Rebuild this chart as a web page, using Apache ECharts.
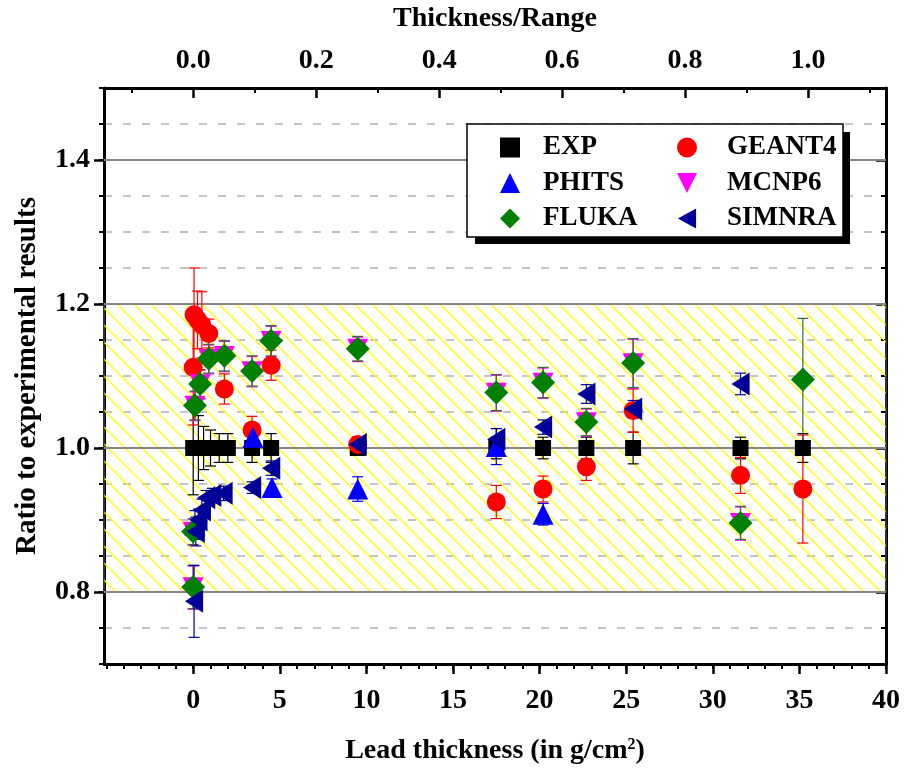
<!DOCTYPE html>
<html>
<head>
<meta charset="utf-8">
<script src="https://cdn.jsdelivr.net/npm/echarts@6/dist/echarts.min.js"></script>
<style>
  html, body { margin: 0; padding: 0; background: #ffffff; }
  #chart { width: 906px; height: 776px; }
</style>
</head>
<body>
<div id="chart"></div>
<script>
// ---- measured ratios to experiment, per code (x = lead thickness in g/cm^2) ----
const expX   = [0, 0.3, 0.6, 1.0, 1.5, 2.0, 3.4, 4.5, 9.5, 17.5, 20.2, 22.7, 25.4, 31.6, 35.2];
const expY   = [1, 1, 1, 1, 1, 1, 1, 1, 1, 1, 1, 1, 1, 1, 1];
const expErr = [0.065, 0.045, 0.03, 0.025, 0.02, 0.02, 0.02, 0.02, 0.01, 0.015, 0.015, 0.015, 0.022, 0.015, 0.02];

const geantX   = [0, 0.05, 0.25, 0.5, 0.9, 1.8, 3.4, 4.5, 9.5, 17.5, 20.2, 22.7, 25.4, 31.6, 35.2];
const geantY   = [1.112, 1.185, 1.178, 1.171, 1.159, 1.082, 1.025, 1.115, 1.005, 0.925, 0.943, 0.974, 1.052, 0.962, 0.943];
const geantErr = [0.08, 0.065, 0.04, 0.046, 0.02, 0.021, 0.019, 0.021, 0.01, 0.023, 0.018, 0.019, 0.03, 0.025, 0.075];

const flukaX   = [0, 0, 0.1, 0.4, 0.9, 1.8, 3.4, 4.5, 9.5, 17.5, 20.2, 22.7, 25.4, 31.6, 35.2];
const flukaY   = [0.807, 0.884, 1.059, 1.089, 1.124, 1.128, 1.107, 1.149, 1.138, 1.077, 1.091, 1.036, 1.118, 0.896, 1.095];
const flukaErr = [0.03, 0.018, 0.02, 0.02, 0.02, 0.021, 0.021, 0.021, 0.017, 0.025, 0.021, 0.019, 0.034, 0.023, 0.085];

const mcnpX   = [0, 0, 0.1, 0.4, 0.9, 1.8, 3.4, 4.5, 9.5, 17.5, 20.2, 22.7, 25.4, 31.6];
const mcnpY   = [0.806, 0.883, 1.058, 1.088, 1.123, 1.127, 1.106, 1.148, 1.137, 1.076, 1.090, 1.035, 1.117, 0.895];
const mcnpErr = [0.03, 0.018, 0.02, 0.02, 0.02, 0.021, 0.021, 0.021, 0.017, 0.025, 0.021, 0.019, 0.034, 0.023];

const phitsX   = [0.1, 3.45, 4.55, 9.5, 17.5, 20.2];
const phitsY   = [0.893, 1.015, 0.945, 0.943, 1.002, 0.908];
const phitsErr = [0.02, 0.012, 0.012, 0.017, 0.025, 0.015];

const simnraX   = [0.05, 0.15, 0.3, 0.5, 0.75, 1.1, 1.75, 3.4, 4.5, 9.5, 17.5, 20.2, 22.7, 25.4, 31.6];
const simnraY   = [0.787, 0.884, 0.900, 0.914, 0.931, 0.934, 0.937, 0.945, 0.972, 1.005, 1.012, 1.029, 1.075, 1.054, 1.089];
const simnraErr = [0.05, 0.02, 0.015, 0.015, 0.01, 0.01, 0.01, 0.008, 0.01, 0.01, 0.015, 0.01, 0.013, 0.012, 0.015];

// ---- axes ----
const xMin = -5.15, xMax = 40;
const leadRange = 35.5;               // g/cm^2, thickness that gives Thickness/Range = 1
const yMin = 0.7, yMax = 1.5;
const bandLow = 0.8, bandHigh = 1.2;  // +/-20 % agreement band
const majorGridY = [0.8, 1.0, 1.2, 1.4];

const bottomTicks = [0, 5, 10, 15, 20, 25, 30, 35, 40];
const topTicks = [0.0, 0.2, 0.4, 0.6, 0.8, 1.0];
const topMinorTicks = [-0.1, 0.1, 0.3, 0.5, 0.7, 0.9, 1.1];
const leftTicks = [0.8, 1.0, 1.2, 1.4];
const bottomMinorTicks = [];
for (let v = -5; v <= 40; v++) bottomMinorTicks.push(v);

const FONT = 'Liberation Serif, Times New Roman, serif';

// yellow diagonal hatching for the agreement band
function hatchPattern() {
  const s = 17;
  const c = document.createElement('canvas');
  c.width = s; c.height = s;
  const g = c.getContext('2d');
  g.strokeStyle = '#ffff00';
  g.lineWidth = 1.3;
  for (let k = -1; k <= 1; k++) {
    g.beginPath();
    g.moveTo(k * s, 0);
    g.lineTo(k * s + s, s);
    g.stroke();
  }
  return { image: c, repeat: 'repeat' };
}

function errorBars(name, xs, ys, errs, color) {
  return {
    type: 'custom',
    name: name + ' error',
    silent: true,
    clip: false,
    data: xs.map((x, i) => [x, ys[i] - errs[i], ys[i] + errs[i]]),
    encode: { x: 0, y: [1, 2] },
    renderItem: function (params, api) {
      const x = api.value(0);
      const top = api.coord([x, api.value(2)]);
      const bot = api.coord([x, api.value(1)]);
      const w = 5.5;
      const st = { stroke: color, lineWidth: 1.2 };
      return {
        type: 'group',
        children: [
          { type: 'line', shape: { x1: top[0], y1: top[1], x2: bot[0], y2: bot[1] }, style: st },
          { type: 'line', shape: { x1: top[0] - w, y1: top[1], x2: top[0] + w, y2: top[1] }, style: st },
          { type: 'line', shape: { x1: bot[0] - w, y1: bot[1], x2: bot[0] + w, y2: bot[1] }, style: st }
        ]
      };
    }
  };
}

function points(name, xs, ys, symbol, size, color) {
  return {
    type: 'scatter',
    name: name,
    silent: true,
    data: xs.map((x, i) => [x, ys[i]]),
    symbol: symbol,
    symbolSize: size,
    symbolKeepAspect: true,
    itemStyle: { color: color, opacity: 1 },
    emphasis: { disabled: true }
  };
}

const TRI_UP = 'path://M10,0 L20,20 L0,20 Z';
const TRI_DOWN = 'path://M0,0 L20,0 L10,20 Z';
const TRI_LEFT = 'path://M0,11 L20,0 L20,22 Z';

const C = {
  EXP: '#000000', GEANT4: '#ff0000', MCNP6: '#ff00ff',
  PHITS: '#0000ff', FLUKA: '#008000', SIMNRA: '#000099'
};

const labelStyle = { fontFamily: FONT, fontWeight: 'bold', fontSize: 28, color: '#000' };
const nameStyle = { fontFamily: FONT, fontWeight: 'bold', fontSize: 28, color: '#000' };
const frameLine = { show: true, onZero: false, lineStyle: { color: '#000', width: 3 } };
const noLine = { show: false, onZero: false };
const legendText = { fontFamily: FONT, fontWeight: 'bold', fontSize: 27, color: '#000' };

const chart = echarts.init(document.getElementById('chart'), null, { renderer: 'canvas' });

chart.setOption({
  animation: false,
  backgroundColor: '#ffffff',
  grid: { left: 104, right: 20, top: 88, bottom: 112, containLabel: false },
  xAxis: [
    { // bottom: frame line + minor ticks (series axis)
      type: 'value', position: 'bottom', min: xMin, max: xMax,
      axisLine: frameLine,
      axisTick: { show: true, customValues: bottomMinorTicks, length: 5, lineStyle: { color: '#000', width: 2 } },
      axisLabel: { show: false }, splitLine: { show: false }
    },
    { // bottom: major ticks + labels + title
      type: 'value', position: 'bottom', min: xMin, max: xMax,
      axisLine: noLine,
      axisTick: { show: true, customValues: bottomTicks, length: 10, lineStyle: { color: '#000', width: 2.5 } },
      axisLabel: Object.assign({ customValues: bottomTicks, margin: 23, formatter: v => String(Math.round(v)) }, labelStyle),
      splitLine: { show: false },
      name: 'Lead thickness (in g/cm{sup|2})',
      nameLocation: 'middle', nameGap: 73,
      nameTextStyle: Object.assign({
        rich: { sup: { fontFamily: FONT, fontWeight: 'bold', fontSize: 16, verticalAlign: 'top', color: '#000' } }
      }, nameStyle)
    },
    { // top: frame line + minor ticks
      type: 'value', position: 'top', min: xMin / leadRange, max: xMax / leadRange,
      axisLine: frameLine,
      axisTick: { show: true, inside: true, customValues: topMinorTicks, length: 5, lineStyle: { color: '#000', width: 2 } },
      axisLabel: { show: false }, splitLine: { show: false }
    },
    { // top: major ticks + labels + title
      type: 'value', position: 'top', min: xMin / leadRange, max: xMax / leadRange,
      axisLine: noLine,
      axisTick: { show: true, inside: true, customValues: topTicks, length: 10, lineStyle: { color: '#000', width: 2.5 } },
      axisLabel: Object.assign({ customValues: topTicks, margin: 13, formatter: v => v.toFixed(1) }, labelStyle),
      splitLine: { show: false },
      name: 'Thickness/Range', nameLocation: 'middle', nameGap: 55,
      nameTextStyle: nameStyle
    }
  ],
  yAxis: [
    { // left: frame line, minor ticks, dashed grid (series axis)
      type: 'value', position: 'left', min: yMin, max: yMax, interval: 0.05,
      axisLine: frameLine,
      axisTick: { show: true, length: 5, lineStyle: { color: '#000', width: 2 } },
      axisLabel: { show: false },
      splitLine: { show: true, lineStyle: { color: '#c4c4c4', width: 2, type: [8, 11] } }
    },
    { // left: major ticks + labels + title
      type: 'value', position: 'left', min: yMin, max: yMax,
      axisLine: noLine,
      axisTick: { show: true, customValues: leftTicks, length: 10, lineStyle: { color: '#000', width: 2.5 } },
      axisLabel: Object.assign({ customValues: leftTicks, margin: 14, formatter: v => v.toFixed(1) }, labelStyle),
      splitLine: { show: false },
      name: 'Ratio to experimental results', nameLocation: 'middle', nameGap: 62,
      nameTextStyle: Object.assign({}, nameStyle, { fontSize: 29 })
    },
    { // right: frame line + minor ticks
      type: 'value', position: 'right', min: yMin, max: yMax, interval: 0.05,
      axisLine: frameLine,
      axisTick: { show: true, inside: true, length: 5, lineStyle: { color: '#000', width: 2 } },
      axisLabel: { show: false }, splitLine: { show: false }
    },
    { // right: major ticks
      type: 'value', position: 'right', min: yMin, max: yMax,
      axisLine: noLine,
      axisTick: { show: true, inside: true, customValues: leftTicks, length: 10, lineStyle: { color: '#000', width: 2.5 } },
      axisLabel: { show: false }, splitLine: { show: false }
    }
  ],
  legend: [
    {
      data: ['EXP', 'PHITS', 'FLUKA'], orient: 'vertical', left: 500, top: 134, padding: 0,
      itemWidth: 20, itemHeight: 20, itemGap: 8.5, selectedMode: false, z: 20, symbolKeepAspect: true,
      textStyle: Object.assign({ padding: [0, 0, 0, 18] }, legendText)
    },
    {
      data: ['GEANT4', 'MCNP6', 'SIMNRA'], orient: 'vertical', left: 677, top: 134, padding: 0,
      itemWidth: 20, itemHeight: 20, itemGap: 8.5, selectedMode: false, z: 20, symbolKeepAspect: true,
      textStyle: Object.assign({ padding: [0, 0, 0, 25] }, legendText)
    }
  ],
  graphic: [
    { type: 'rect', z: 10, silent: true, shape: { x: 475, y: 132, width: 375, height: 112 }, style: { fill: '#000' } },
    { type: 'rect', z: 11, silent: true, shape: { x: 467, y: 124, width: 376, height: 113 }, style: { fill: '#fff', stroke: '#000', lineWidth: 1.5 } }
  ],
  series: [
    { // +/-20 % agreement band
      type: 'line', data: [], silent: true, z: 1,
      markArea: {
        silent: true,
        label: { show: false },
        itemStyle: { color: hatchPattern(), borderColor: '#606060', borderWidth: 1 },
        data: [[{ yAxis: bandLow }, { yAxis: bandHigh }]]
      }
    },
    { // solid grid lines at the labelled ratios
      type: 'custom', silent: true, z: 1, clip: true,
      data: majorGridY.map(v => [v]),
      encode: { y: 0 },
      renderItem: function (params, api) {
        const a = api.coord([xMin, api.value(0)]);
        const b = api.coord([xMax, api.value(0)]);
        return { type: 'line', shape: { x1: a[0], y1: a[1], x2: b[0], y2: b[1] }, style: { stroke: '#858585', lineWidth: 2 } };
      }
    },
    errorBars('EXP', expX, expY, expErr, C.EXP),
    points('EXP', expX, expY, 'rect', 16, C.EXP),
    errorBars('GEANT4', geantX, geantY, geantErr, C.GEANT4),
    points('GEANT4', geantX, geantY, 'circle', 19, C.GEANT4),
    errorBars('MCNP6', mcnpX, mcnpY, mcnpErr, C.MCNP6),
    points('MCNP6', mcnpX, mcnpY, TRI_DOWN, 21, C.MCNP6),
    errorBars('PHITS', phitsX, phitsY, phitsErr, C.PHITS),
    points('PHITS', phitsX, phitsY, TRI_UP, 21, C.PHITS),
    errorBars('FLUKA', flukaX, flukaY, flukaErr, '#3a6a3a'),
    points('FLUKA', flukaX, flukaY, 'diamond', 24, C.FLUKA),
    errorBars('SIMNRA', simnraX, simnraY, simnraErr, C.SIMNRA),
    points('SIMNRA', simnraX, simnraY, TRI_LEFT, [20, 23], C.SIMNRA)
  ]
});
</script>
</body>
</html>
